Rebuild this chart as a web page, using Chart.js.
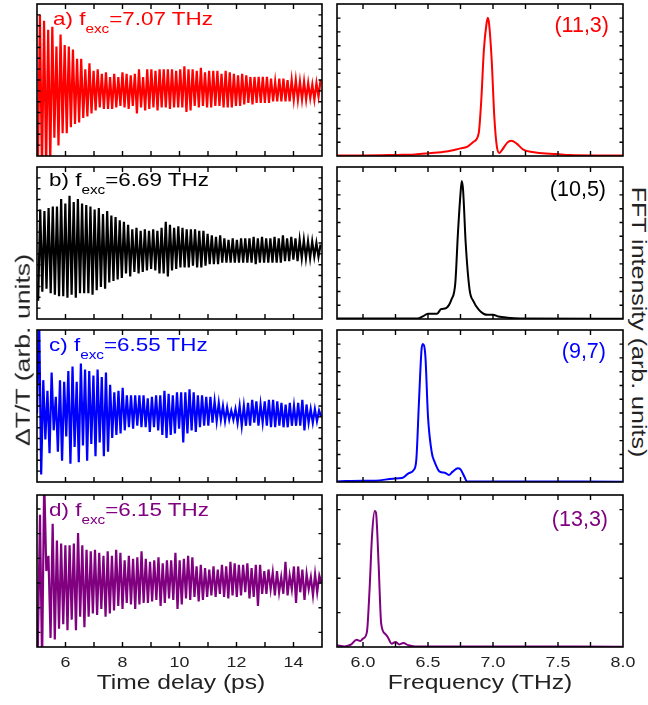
<!DOCTYPE html>
<html>
<head>
<meta charset="utf-8">
<title>Time-domain traces and FFT spectra</title>
<script src="https://cdn.jsdelivr.net/npm/chart.js@4.4.1/dist/chart.umd.min.js"></script>
<style>
  html, body { margin: 0; padding: 0; background: #fff; }
  #fig { position: relative; width: 648px; height: 705px; overflow: hidden; font-family: "Liberation Sans", Arial, sans-serif; }
  #fig canvas { position: absolute; }
  .txt { position: absolute; white-space: nowrap; line-height: 1; transform-origin: 0 0; }
  .sub { font-size: 13px; vertical-align: -7.5px; }
</style>
</head>
<body>
<div id="fig"></div>
<script>
// ---- data (y in % of panel height) ----
const timeRange = [5, 15];
const freqRange = [5.8, 8.0];
const timeTicks = [6, 7, 8, 9, 10, 11, 12, 13, 14];
const timeTickLabels = ['6', '8', '10', '12', '14'];
const freqTicks = [6.0, 6.25, 6.5, 6.75, 7.0, 7.25, 7.5, 7.75];
const freqTickLabels = ['6.0', '6.5', '7.0', '7.5', '8.0'];

const panelNames = ['a)', 'b)', 'c)', 'd)'];
const excFreqs = ['7.07', '6.69', '6.55', '6.15'];
const chiralities = ['(11,3)', '(10,5)', '(9,7)', '(13,3)'];

// time traces: first/last extremum time (ps), then alternating troughs / peaks
const spanA = [5.03, 14.95];
const troughsA = [-10, -10, -8, -5, 12, 7, 15, 15, 19, 21, 22, 25, 26, 28, 30, 32, 31, 31, 31, 32,
  33, 32, 31, 33, 28, 32, 30, 31, 32, 30, 32, 32, 31, 32, 32, 32, 29, 30, 33, 32,
  33, 32, 32, 33, 33, 32, 32, 32, 33, 33, 34, 35, 34, 35, 35, 35, 35, 36, 36, 36,
  36, 36, 37, 37, 37, 37, 38, 37, 39];
const peaksA = [93, 89, 83, 85, 72, 80, 73, 72, 70, 64, 64, 57, 61, 56, 57, 54, 55, 52, 54, 52,
  55, 54, 53, 54, 57, 52, 57, 57, 56, 57, 57, 57, 57, 56, 57, 59, 57, 57, 56, 58,
  55, 56, 56, 56, 54, 56, 55, 54, 53, 54, 53, 52, 52, 52, 52, 52, 51, 49, 51, 51,
  50, 50, 50, 49, 49, 48, 47, 48, 50];

const spanB = [5.04, 14.95];
const troughsB = [12, 18, 20, 17, 16, 15, 15, 14, 16, 14, 17, 17, 17, 16, 19, 21, 20, 24, 25, 26,
  27, 30, 28, 31, 30, 31, 32, 33, 32, 30, 30, 28, 32, 33, 34, 34, 34, 35, 34, 34,
  35, 36, 36, 36, 37, 37, 37, 37, 37, 37, 37, 37, 36, 37, 37, 37, 37, 37, 37, 38,
  38, 39, 38, 40, 40, 40, 41, 41];
const peaksB = [72, 71, 73, 74, 74, 79, 76, 81, 77, 79, 76, 75, 74, 72, 73, 69, 71, 68, 67, 65,
  64, 62, 59, 60, 58, 59, 58, 59, 58, 60, 64, 62, 60, 61, 60, 59, 59, 59, 58, 58,
  56, 55, 54, 55, 53, 52, 53, 52, 53, 53, 53, 54, 53, 54, 53, 53, 54, 53, 55, 53,
  54, 53, 52, 52, 51, 51, 50, 49];

const spanC = [5.0, 14.97];
const troughsC = [45, 5, 28, 19, 34, 20, 14, 30, 12, 23, 13, 24, 14, 25, 17, 26, 17, 20, 29, 31, 32,
  34, 36, 35, 37, 36, 36, 33, 36, 34, 31, 29, 31, 32, 35, 26, 32, 34, 33, 36, 37,
  37, 39, 40, 41, 40, 41, 41, 39, 37, 37, 37, 39, 37, 39, 37, 36, 36, 37, 36, 36,
  37, 37, 37, 34, 39, 39, 40, 43];
const peaksC = [110, 67, 60, 72, 56, 67, 66, 73, 76, 66, 78, 74, 73, 70, 74, 69, 72, 64, 59, 60,
  62, 57, 57, 57, 57, 57, 55, 56, 57, 57, 60, 58, 57, 59, 59, 59, 61, 59, 57, 57,
  56, 56, 53, 52, 50, 49, 47, 48, 50, 50, 52, 54, 53, 51, 53, 54, 54, 53, 52, 51,
  52, 50, 52, 54, 51, 48, 48, 47];

const spanD = [5.03, 14.98];
const troughsD = [0, -10, 50, 6, 5, 12, 15, 11, 18, 11, 20, 13, 20, 22, 21, 25, 20, 22, 24, 27,
  25, 29, 28, 25, 28, 29, 29, 30, 31, 27, 29, 32, 31, 25, 28, 32, 31, 33, 30, 31,
  33, 34, 33, 35, 33, 32, 34, 33, 34, 36, 32, 33, 27, 35, 35, 38, 34, 36, 35, 34,
  38, 29, 36, 31, 38, 34, 36, 42];
const peaksD = [87, 110, 60, 81, 70, 68, 67, 67, 68, 75, 67, 64, 63, 64, 62, 60, 63, 60, 64, 62,
  57, 60, 58, 59, 63, 58, 56, 57, 59, 55, 57, 57, 62, 57, 58, 60, 59, 53, 54, 52,
  51, 53, 51, 54, 53, 56, 55, 54, 54, 55, 52, 54, 54, 50, 51, 49, 50, 46, 56, 47,
  53, 53, 51, 48, 46, 48, 47];

// FFT spectra
const fftFreqA = [5.8, 6.0, 6.2, 6.3, 6.4, 6.51, 6.64, 6.75, 6.8, 6.85, 6.89, 6.91, 6.93, 6.95, 6.96,
  6.97, 6.99, 7.01, 7.03, 7.05, 7.07, 7.11, 7.14, 7.18, 7.23, 7.34, 7.49, 7.59, 7.8, 8.0];
const fftA = [0.4, 0.4, 0.6, 0.8, 1, 1.8, 2.9, 5, 6, 9.4, 15, 37, 70, 87, 91,
  87, 63, 26, 6, 2, 4, 8.8, 10, 8.3, 4.4, 2.2, 1.3, 0.6, 0.4, 0.4];

const fftFreqB = [5.8, 6.42, 6.46, 6.5, 6.57, 6.6, 6.64, 6.68, 6.71, 6.73, 6.75, 6.76, 6.77, 6.79,
  6.82, 6.85, 6.89, 6.93, 6.96, 7.0, 7.04, 7.11, 7.21, 8.0];
const fftB = [0.3, 0.3, 1.7, 3.5, 3.5, 6.5, 7.2, 12.7, 23.6, 56, 82.5, 90.8, 84.7, 49.8,
  19.2, 11.6, 6.1, 3.3, 2.8, 2.8, 1.7, 0.9, 0.4, 0.2];

const fftFreqC = [5.8, 6.0, 6.1, 6.23, 6.3, 6.35, 6.39, 6.41, 6.43, 6.45, 6.46, 6.48, 6.5, 6.53,
  6.55, 6.59, 6.63, 6.66, 6.69, 6.73, 6.75, 6.78, 6.8, 7.03, 8.0];
const fftC = [0.4, 0.9, 0.9, 2.2, 2.6, 5.7, 7.9, 14.5, 51.8, 86.8, 90.8, 82.5, 43, 18.9,
  13.4, 6.8, 6.1, 4.6, 6.8, 9, 8.3, 3.5, 0.4, 0.4, 0.2];

const fftFreqD = [5.8, 5.86, 5.91, 5.95, 5.98, 6.0, 6.03, 6.05, 6.07, 6.09, 6.1, 6.12, 6.14, 6.17,
  6.19, 6.22, 6.25, 6.28, 6.31, 6.35, 6.4, 7.0, 8.0];
const fftD = [1.1, 0.4, 1.7, 4.8, 3.9, 5.5, 9.8, 37, 74, 89.5, 88.4, 54.6, 15.3, 8.7,
  6.6, 2.2, 3.3, 1.7, 2.6, 1.1, 0.4, 0.4, 0.2];

// ---- layout / style ----
const colors = ['#ff0000', '#000000', '#0000ff', '#800080'];
const rowTops = [4, 167, 330, 495];
const panelH = 152;
const leftCol = { left: 37, width: 285 };
const rightCol = { left: 337, width: 286 };
const labelX = [53, 48.5, 49, 48.5];
const labelBase = [21, 19.5, 21.5, 21];
const chiralRight = [609, 606, 606, 608];
const chiralBase = [29.3, 30, 29, 31.7];
const yTickSets = [
  { left: [100 / 14, 100 / 14, 13], right: [9.07, 9.07, 10] },
  { left: [100 / 14, 100 / 14, 13], right: [9.07, 9.07, 10] },
  { left: [100 / 14, 100 / 14, 13], right: [9.07, 9.07, 10] },
  { left: [9.6, 16.24, 6], right: [22.6, 22.6, 4] }
];

const fig = document.getElementById('fig');

function tickList([start, step, n]) {
  const out = [];
  for (let i = 0; i < n; i++) out.push(start + i * step);
  return out;
}

function zigzag(span, troughs, peaks) {
  const vals = [];
  for (let i = 0; i < Math.max(troughs.length, peaks.length); i++) {
    if (i < troughs.length) vals.push(troughs[i]);
    if (i < peaks.length) vals.push(peaks[i]);
  }
  const dt = (span[1] - span[0]) / (vals.length - 1);
  return vals.map((v, i) => ({ x: span[0] + i * dt, y: v }));
}

function pairs(xs, ys) {
  return xs.map((x, i) => ({ x, y: ys[i] }));
}

// border, inward ticks on all four sides, tick labels on the bottom row
const framePlugin = {
  id: 'frame',
  afterDraw(chart, args, opts) {
    const { ctx, chartArea: a, scales: { x, y } } = chart;
    ctx.save();
    ctx.strokeStyle = '#000';
    ctx.lineWidth = 1.6;
    ctx.strokeRect(a.left, a.top, a.right - a.left, a.bottom - a.top);
    ctx.lineWidth = 1.4;
    ctx.beginPath();
    opts.xTicks.forEach(v => {
      const px = x.getPixelForValue(v);
      ctx.moveTo(px, a.bottom); ctx.lineTo(px, a.bottom - 5);
      ctx.moveTo(px, a.top); ctx.lineTo(px, a.top + 5);
    });
    opts.yTicks.forEach(v => {
      const py = y.getPixelForValue(v);
      ctx.moveTo(a.left, py); ctx.lineTo(a.left + 3.5, py);
      ctx.moveTo(a.right, py); ctx.lineTo(a.right - 3.5, py);
    });
    ctx.stroke();
    if (opts.xLabels) {
      ctx.fillStyle = '#222';
      ctx.font = '15.5px "Liberation Sans", Arial, sans-serif';
      ctx.textAlign = 'center';
      ctx.textBaseline = 'alphabetic';
      opts.xLabels.forEach(t => {
        ctx.save();
        ctx.translate(x.getPixelForValue(parseFloat(t)), a.bottom + 19.7);
        ctx.scale(1.15, 1);
        ctx.fillText(t, 0, 0);
        ctx.restore();
      });
    }
    ctx.restore();
  }
};

function addPanel(col, top, bottomRow, xRange, xTicks, xLabels, yTicks, points, color, smooth) {
  const pad = 4;
  const padBottom = bottomRow ? 28 : pad;
  const padRight = bottomRow ? 20 : pad;
  const cv = document.createElement('canvas');
  cv.width = col.width + pad + padRight;
  cv.height = panelH + pad + padBottom;
  cv.style.left = (col.left - pad) + 'px';
  cv.style.top = (top - pad) + 'px';
  fig.appendChild(cv);
  new Chart(cv, {
    type: 'line',
    data: {
      datasets: [{
        data: points,
        borderColor: color,
        borderWidth: smooth ? 2 : 2.2,
        pointRadius: 0,
        tension: 0,
        cubicInterpolationMode: smooth ? 'monotone' : 'default',
        clip: 0
      }]
    },
    options: {
      responsive: false,
      animation: false,
      devicePixelRatio: 1,
      events: [],
      layout: { padding: { left: pad, right: padRight, top: pad, bottom: padBottom } },
      scales: {
        x: { type: 'linear', min: xRange[0], max: xRange[1], display: false },
        y: { min: 0, max: 100, display: false }
      },
      plugins: {
        legend: { display: false },
        tooltip: { enabled: false },
        frame: { xTicks, yTicks, xLabels: bottomRow ? xLabels : null }
      }
    },
    plugins: [framePlugin]
  });
}

function addText(html, css) {
  const d = document.createElement('div');
  d.className = 'txt';
  d.innerHTML = html;
  Object.assign(d.style, css);
  fig.appendChild(d);
  return d;
}

const traces = [
  zigzag(spanA, troughsA, peaksA),
  zigzag(spanB, troughsB, peaksB),
  zigzag(spanC, troughsC, peaksC),
  zigzag(spanD, troughsD, peaksD)
];
const spectra = [
  pairs(fftFreqA, fftA),
  pairs(fftFreqB, fftB),
  pairs(fftFreqC, fftC),
  pairs(fftFreqD, fftD)
];

rowTops.forEach((top, i) => {
  const last = i === rowTops.length - 1;
  addPanel(leftCol, top, last, timeRange, timeTicks, timeTickLabels,
    tickList(yTickSets[i].left), traces[i], colors[i], false);
  addPanel(rightCol, top, last, freqRange, freqTicks, freqTickLabels,
    tickList(yTickSets[i].right), spectra[i], colors[i], true);

  addText(`${panelNames[i]} f<span class="sub">exc</span>=${excFreqs[i]} THz`, {
    left: labelX[i] + 'px', top: (top + labelBase[i] - 16.1) + 'px',
    fontSize: '19px', color: colors[i], transform: 'scaleX(1.18)'
  });
  addText(chiralities[i], {
    right: (648 - chiralRight[i]) + 'px', top: (top + chiralBase[i] - 18.2) + 'px',
    fontSize: '21.5px', color: colors[i]
  });
});

// axis titles
addText('Time delay (ps)', {
  left: '181px', top: '672.2px', fontSize: '20.5px', color: '#222',
  transform: 'scaleX(1.2) translateX(-50%)'
});
addText('Frequency (THz)', {
  left: '480px', top: '672.2px', fontSize: '20.5px', color: '#222',
  transform: 'scaleX(1.2) translateX(-50%)'
});
addText('ΔT/T (arb. units)', {
  left: '22.5px', top: '350px', fontSize: '20.5px', color: '#222',
  transformOrigin: '50% 50%', transform: 'translate(-50%,-50%) rotate(-90deg) scaleX(1.3)'
});
addText('FFT intensity (arb. units)', {
  left: '638.5px', top: '322px', fontSize: '20px', color: '#222',
  transformOrigin: '50% 50%', transform: 'translate(-50%,-50%) rotate(90deg) scaleX(1.25)'
});
</script>
</body>
</html>
